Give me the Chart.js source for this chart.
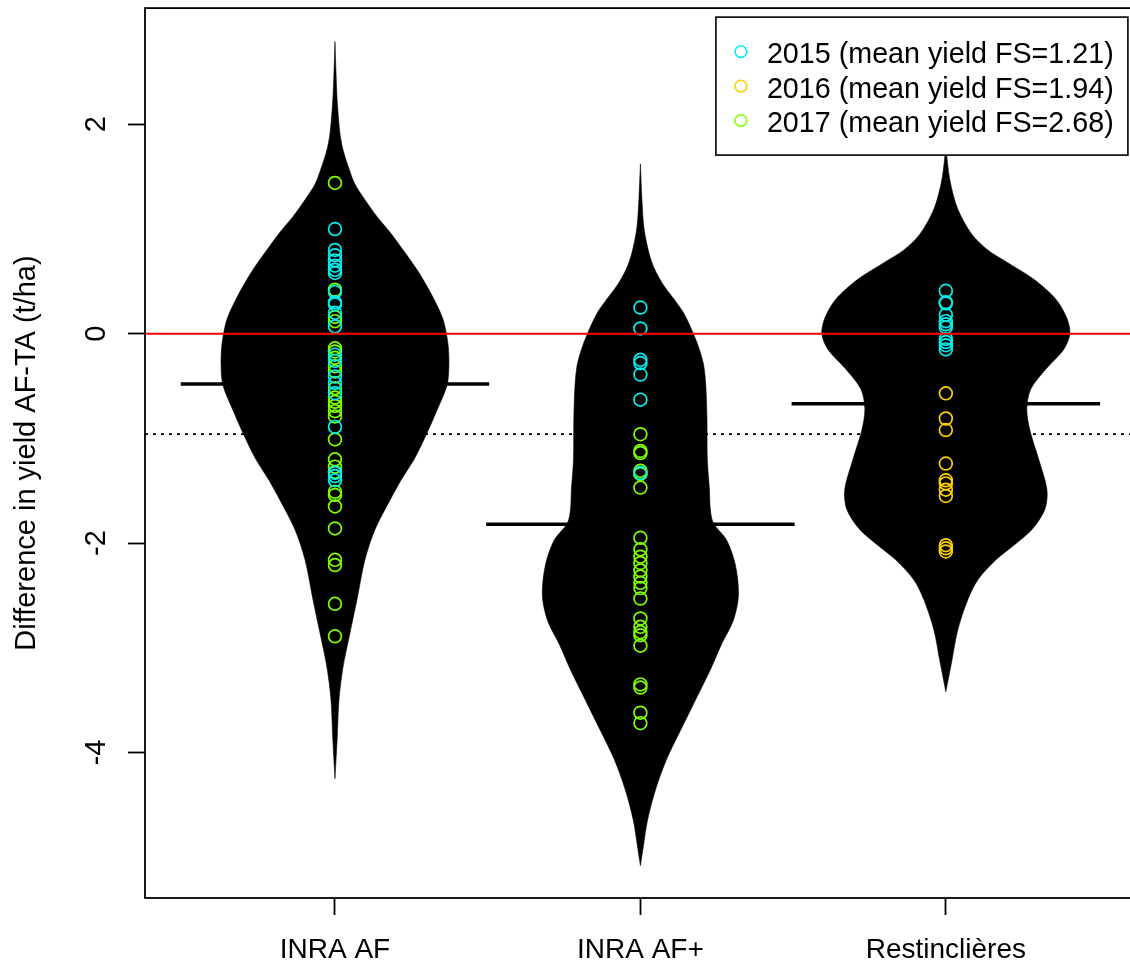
<!DOCTYPE html>
<html>
<head>
<meta charset="utf-8">
<title>Difference in yield AF-TA</title>
<script src="https://cdn.jsdelivr.net/npm/chart.js@4/dist/chart.umd.min.js"></script>
<style>
  html, body { margin: 0; padding: 0; background: #fff; overflow: hidden; }
  #wrap { width: 1130px; height: 968px; overflow: hidden; position: relative; }
  canvas { display: block; }
</style>
</head>
<body>
<div id="wrap"><canvas id="c" width="1143" height="968"></canvas></div>
<script>
// ---- data ----
const sites = ['INRA AF', 'INRA AF+', 'Restinclières'];
const years = ['2015', '2016', '2017'];
const meanYieldFS = [1.21, 1.94, 2.68];
const yTickValues = [2, 0, -2, -4];

// yield differences (t/ha) per site, one list per year
const afYield2015 = [1.00, 0.80, 0.75, 0.70, 0.65, 0.61, 0.58, 0.40, 0.30, 0.28, 0.20, 0.07,
  -0.20, -0.26, -0.41, -0.47, -0.57, -0.89, -1.33, -1.36, -1.40];
const afYield2016 = [];
const afYield2017 = [1.44, 0.42, 0.16, 0.12, -0.14, -0.17, -0.23, -0.31, -0.36, -0.52, -0.61,
  -0.65, -0.69, -0.74, -0.79, -1.01, -1.20, -1.27, -1.32, -1.51, -1.54, -1.65, -1.86, -2.16,
  -2.21, -2.58, -2.89];
const afPlusYield2015 = [0.25, 0.05, -0.25, -0.28, -0.39, -0.63, -1.33];
const afPlusYield2016 = [];
const afPlusYield2017 = [-0.96, -1.12, -1.14, -1.31, -1.34, -1.47, -1.95, -2.06, -2.13, -2.19,
  -2.26, -2.32, -2.38, -2.43, -2.53, -2.72, -2.80, -2.85, -2.88, -2.98, -3.35, -3.38, -3.62, -3.72];
const restYield2015 = [0.41, 0.30, 0.29, 0.18, 0.12, 0.09, 0.06, -0.05, -0.08, -0.11, -0.15];
const restYield2016 = [-0.57, -0.81, -0.92, -1.24, -1.40, -1.43, -1.49, -1.55, -2.02, -2.05, -2.08];
const restYield2017 = [];

// bean means and overall mean (t/ha)
const beanMeans = [-0.48, -1.82, -0.67];
const overallMean = -0.96;

// density outlines: levels (t/ha) and half-width of the bean (in site units)
const afDensityY = [2.79, 2.52, 2.24, 1.92, 1.76, 1.60, 1.43, 1.28, 1.12, 0.97, 0.80, 0.64, 0.52,
  0.33, 0.135, -0.10, -0.30, -0.49, -0.73, -0.97, -1.20, -1.40, -1.59, -1.87, -2.16, -2.54,
  -2.86, -3.19, -3.50, -3.88, -4.25];
const afDensityW = [0, 0.003, 0.007, 0.016, 0.026, 0.043, 0.065, 0.098, 0.137, 0.180, 0.223,
  0.262, 0.288, 0.324, 0.354, 0.370, 0.373, 0.367, 0.334, 0.298, 0.259, 0.216, 0.180, 0.131,
  0.098, 0.072, 0.049, 0.026, 0.013, 0.007, 0];
const afPlusDensityY = [1.62, 1.28, 1.00, 0.76, 0.62, 0.47, 0.33, 0.20, 0.01, -0.15, -0.30, -0.49,
  -0.82, -1.20, -1.49, -1.68, -1.81, -1.97, -2.21, -2.50, -2.74, -2.97, -3.21, -3.50, -3.79,
  -4.07, -4.36, -4.65, -4.89, -5.08];
const afPlusDensityW = [0, 0.005, 0.012, 0.029, 0.046, 0.074, 0.110, 0.141, 0.172, 0.193, 0.207,
  0.214, 0.218, 0.219, 0.226, 0.229, 0.239, 0.282, 0.311, 0.321, 0.304, 0.265, 0.229, 0.180,
  0.131, 0.085, 0.049, 0.023, 0.010, 0];
const restDensityY = [1.78, 1.47, 1.19, 0.95, 0.80, 0.69, 0.52, 0.33, 0.15, 0.00, -0.15, -0.34,
  -0.53, -0.72, -0.92, -1.20, -1.49, -1.68, -1.87, -2.02, -2.16, -2.35, -2.54, -2.83, -3.12, -3.42];
const restDensityW = [0, 0.013, 0.039, 0.085, 0.137, 0.196, 0.288, 0.360, 0.396, 0.406, 0.386,
  0.327, 0.278, 0.265, 0.275, 0.304, 0.331, 0.324, 0.282, 0.223, 0.164, 0.105, 0.072, 0.039,
  0.020, 0];

// ---- assembly ----
const yieldBySite = [
  [afYield2015, afYield2016, afYield2017],
  [afPlusYield2015, afPlusYield2016, afPlusYield2017],
  [restYield2015, restYield2016, restYield2017]
];
const densities = [
  [afDensityY, afDensityW],
  [afPlusDensityY, afPlusDensityW],
  [restDensityY, restDensityW]
];
const yearColors = ['#00F0F0', '#FFD000', '#7FFF00'];
const FONT = '"Liberation Sans", Arial, Helvetica, sans-serif';
const X_MIN = 0.378, X_MAX = 3.619;
const Y_MIN = -5.39, Y_MAX = 3.11;
const BEANLINE_HALF = 0.505;

const datasets = [];

// horizontal reference at the overall mean (dotted)
datasets.push({
  data: [{x: X_MIN, y: overallMean}, {x: X_MAX, y: overallMean}],
  showLine: true, borderColor: '#000', borderWidth: 1.8, borderDash: [3, 5],
  pointRadius: 0, fill: false, order: 5
});

// bean mean lines
beanMeans.forEach((m, i) => {
  datasets.push({
    data: [{x: i + 1 - BEANLINE_HALF, y: m}, {x: i + 1 + BEANLINE_HALF, y: m}],
    showLine: true, borderColor: '#000', borderWidth: 3.5, borderCapStyle: 'butt',
    pointRadius: 0, fill: false, order: 4
  });
});

// bean shapes: right edge top-to-bottom, then left edge bottom-to-top
densities.forEach(([ys, ws], i) => {
  const c = i + 1;
  const right = ys.map((y, k) => ({x: c + ws[k], y}));
  const left = ys.map((y, k) => ({x: c - ws[k], y})).reverse();
  datasets.push({
    data: right.concat(left),
    showLine: true, tension: 0.3, fill: 'shape',
    backgroundColor: '#000', borderColor: '#000', borderWidth: 0.6,
    pointRadius: 0, order: 3
  });
});

// observations, one dataset per year
years.forEach((yr, j) => {
  const pts = [];
  yieldBySite.forEach((bySite, i) => bySite[j].forEach(v => pts.push({x: i + 1, y: v})));
  datasets.push({
    label: yr + ' (mean yield FS=' + meanYieldFS[j].toFixed(2) + ')',
    data: pts, showLine: false,
    pointStyle: 'circle', pointRadius: 6.4, pointBorderWidth: 1.7,
    pointBackgroundColor: 'rgba(0,0,0,0)', pointBorderColor: yearColors[j],
    borderColor: yearColors[j], order: 2
  });
});

// zero line
datasets.push({
  data: [{x: X_MIN, y: 0}, {x: X_MAX, y: 0}],
  showLine: true, borderColor: '#FF0000', borderWidth: 2,
  pointRadius: 0, fill: false, order: 1
});

// frame, rotated y labels, axis title and legend box
const decorations = {
  id: 'decorations',
  afterDatasetsDraw(chart) {
    const {ctx, chartArea: a, scales} = chart;
    const y = scales.y;
    ctx.save();
    ctx.strokeStyle = '#000';
    ctx.lineWidth = 1.8;
    ctx.strokeRect(a.left, a.top, a.right - a.left, a.bottom - a.top);

    ctx.fillStyle = '#000';
    ctx.textAlign = 'center';
    ctx.textBaseline = 'alphabetic';
    ctx.font = '29px ' + FONT;
    y.ticks.forEach(t => {
      const py = y.getPixelForValue(t.value);
      ctx.save();
      ctx.translate(a.left - 40, py);
      ctx.rotate(-Math.PI / 2);
      ctx.fillText(String(t.value), 0, 0);
      ctx.restore();
    });

    ctx.save();
    ctx.translate(35, (a.top + a.bottom) / 2);
    ctx.rotate(-Math.PI / 2);
    ctx.fillText('Difference in yield AF-TA (t/ha)', 0, 0);
    ctx.restore();

    // legend
    const lx = a.right - 419, ly = a.top + 9, lw = 412, lh = 138;
    ctx.fillStyle = '#fff';
    ctx.fillRect(lx, ly, lw, lh);
    ctx.lineWidth = 1.6;
    ctx.strokeRect(lx, ly, lw, lh);
    ctx.font = '28.7px ' + FONT;
    ctx.textAlign = 'left';
    chart.data.datasets.filter(d => d.label).forEach((d, j) => {
      const cy = ly + 34.5 + j * 34.5;
      ctx.beginPath();
      ctx.arc(lx + 25, cy, 5.8, 0, Math.PI * 2);
      ctx.strokeStyle = d.pointBorderColor;
      ctx.lineWidth = 1.6;
      ctx.stroke();
      ctx.fillStyle = '#000';
      ctx.fillText(d.label, lx + 51, cy + 11.5);
    });
    ctx.restore();
  }
};

new Chart(document.getElementById('c'), {
  type: 'scatter',
  data: {datasets},
  options: {
    responsive: false,
    animation: false,
    devicePixelRatio: 1,
    layout: {padding: {top: 8, right: 0, left: 0, bottom: 0}},
    plugins: {legend: {display: false}, tooltip: {enabled: false}},
    scales: {
      x: {
        type: 'linear', min: X_MIN, max: X_MAX,
        afterBuildTicks: s => { s.ticks = sites.map((_, i) => ({value: i + 1})); },
        afterFit: s => { s.height = 70; },
        ticks: {
          callback: (v, idx) => sites[idx],
          color: '#000', font: {family: FONT, size: 28}, padding: 18,
          maxRotation: 0, minRotation: 0, autoSkip: false
        },
        grid: {drawOnChartArea: false, drawTicks: true, tickLength: 17, tickWidth: 1.8, tickColor: '#000'},
        border: {display: false}
      },
      y: {
        type: 'linear', min: Y_MIN, max: Y_MAX,
        afterBuildTicks: s => { s.ticks = yTickValues.map(v => ({value: v})); },
        afterFit: s => { s.width = 145; },
        ticks: {display: false},
        grid: {drawOnChartArea: false, drawTicks: true, tickLength: 17, tickWidth: 1.8, tickColor: '#000'},
        border: {display: false}
      }
    }
  },
  plugins: [decorations]
});
</script>
</body>
</html>
